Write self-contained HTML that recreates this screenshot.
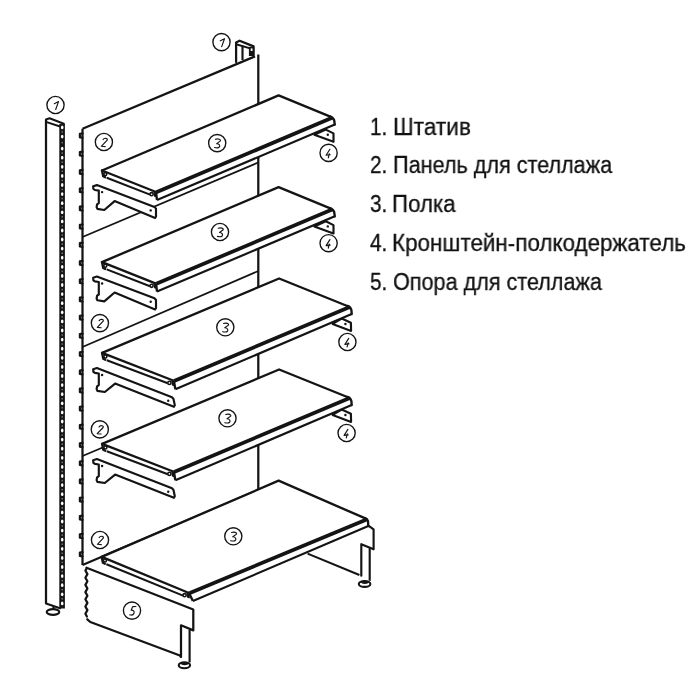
<!DOCTYPE html>
<html><head><meta charset="utf-8"><style>
html,body{margin:0;padding:0;background:#fff;width:700px;height:700px;overflow:hidden}
svg{position:absolute;left:0;top:0}
.t{position:absolute;font-family:"Liberation Sans",sans-serif;font-size:23.5px;line-height:23.5px;color:#111;white-space:nowrap;transform-origin:0 0;will-change:transform;-webkit-text-stroke:0.3px #111}
</style></head><body>
<svg width="700" height="700" viewBox="0 0 700 700">
<line x1="46" y1="119.5" x2="46" y2="603.5" stroke="#141414" stroke-width="2.25"/>
<polyline points="46,119.5 49.5,118.3 63.8,123.8" fill="none" stroke="#141414" stroke-width="2.05" stroke-linejoin="round" stroke-linecap="round"/>
<line x1="46" y1="121.8" x2="60" y2="126.5" stroke="#141414" stroke-width="1.85"/>
<rect x="59.3" y="124" width="5.6" height="484.5" fill="#141414"/>
<ellipse cx="62.2" cy="127.4" rx="1.25" ry="1.9" fill="#fff"/>
<rect x="61.6" y="131.2" width="1.2" height="1.6" fill="#888"/>
<ellipse cx="62.2" cy="136.6" rx="1.25" ry="1.9" fill="#fff"/>
<rect x="61.6" y="141.8" width="1.2" height="1.6" fill="#888"/>
<ellipse cx="62.2" cy="148.6" rx="1.25" ry="1.9" fill="#fff"/>
<rect x="61.6" y="152.3" width="1.2" height="1.6" fill="#888"/>
<ellipse cx="62.2" cy="157.7" rx="1.25" ry="1.9" fill="#fff"/>
<rect x="61.6" y="161.4" width="1.2" height="1.6" fill="#888"/>
<ellipse cx="62.2" cy="166.8" rx="1.25" ry="1.9" fill="#fff"/>
<rect x="61.6" y="170.5" width="1.2" height="1.6" fill="#888"/>
<ellipse cx="62.2" cy="175.9" rx="1.25" ry="1.9" fill="#fff"/>
<rect x="61.6" y="179.6" width="1.2" height="1.6" fill="#888"/>
<ellipse cx="62.2" cy="185" rx="1.25" ry="1.9" fill="#fff"/>
<rect x="61.6" y="188.7" width="1.2" height="1.6" fill="#888"/>
<ellipse cx="62.2" cy="194.1" rx="1.25" ry="1.9" fill="#fff"/>
<rect x="61.6" y="197.8" width="1.2" height="1.6" fill="#888"/>
<ellipse cx="62.2" cy="203.2" rx="1.25" ry="1.9" fill="#fff"/>
<rect x="61.6" y="206.9" width="1.2" height="1.6" fill="#888"/>
<ellipse cx="62.2" cy="212.3" rx="1.25" ry="1.9" fill="#fff"/>
<rect x="61.6" y="216" width="1.2" height="1.6" fill="#888"/>
<ellipse cx="62.2" cy="221.4" rx="1.25" ry="1.9" fill="#fff"/>
<rect x="61.6" y="225.1" width="1.2" height="1.6" fill="#888"/>
<ellipse cx="62.2" cy="230.5" rx="1.25" ry="1.9" fill="#fff"/>
<rect x="61.6" y="234.2" width="1.2" height="1.6" fill="#888"/>
<ellipse cx="62.2" cy="239.5" rx="1.25" ry="1.9" fill="#fff"/>
<rect x="61.6" y="243.3" width="1.2" height="1.6" fill="#888"/>
<ellipse cx="62.2" cy="248.6" rx="1.25" ry="1.9" fill="#fff"/>
<rect x="61.6" y="252.4" width="1.2" height="1.6" fill="#888"/>
<ellipse cx="62.2" cy="257.7" rx="1.25" ry="1.9" fill="#fff"/>
<rect x="61.6" y="261.5" width="1.2" height="1.6" fill="#888"/>
<ellipse cx="62.2" cy="266.8" rx="1.25" ry="1.9" fill="#fff"/>
<rect x="61.6" y="270.6" width="1.2" height="1.6" fill="#888"/>
<ellipse cx="62.2" cy="275.9" rx="1.25" ry="1.9" fill="#fff"/>
<rect x="61.6" y="279.7" width="1.2" height="1.6" fill="#888"/>
<ellipse cx="62.2" cy="285" rx="1.25" ry="1.9" fill="#fff"/>
<rect x="61.6" y="288.8" width="1.2" height="1.6" fill="#888"/>
<ellipse cx="62.2" cy="294.1" rx="1.25" ry="1.9" fill="#fff"/>
<rect x="61.6" y="297.9" width="1.2" height="1.6" fill="#888"/>
<ellipse cx="62.2" cy="303.2" rx="1.25" ry="1.9" fill="#fff"/>
<rect x="61.6" y="307" width="1.2" height="1.6" fill="#888"/>
<ellipse cx="62.2" cy="312.3" rx="1.25" ry="1.9" fill="#fff"/>
<rect x="61.6" y="316.1" width="1.2" height="1.6" fill="#888"/>
<ellipse cx="62.2" cy="321.4" rx="1.25" ry="1.9" fill="#fff"/>
<rect x="61.6" y="325.2" width="1.2" height="1.6" fill="#888"/>
<ellipse cx="62.2" cy="330.5" rx="1.25" ry="1.9" fill="#fff"/>
<rect x="61.6" y="334.2" width="1.2" height="1.6" fill="#888"/>
<ellipse cx="62.2" cy="339.6" rx="1.25" ry="1.9" fill="#fff"/>
<rect x="61.6" y="343.3" width="1.2" height="1.6" fill="#888"/>
<ellipse cx="62.2" cy="348.7" rx="1.25" ry="1.9" fill="#fff"/>
<rect x="61.6" y="352.4" width="1.2" height="1.6" fill="#888"/>
<ellipse cx="62.2" cy="357.8" rx="1.25" ry="1.9" fill="#fff"/>
<rect x="61.6" y="361.5" width="1.2" height="1.6" fill="#888"/>
<ellipse cx="62.2" cy="366.9" rx="1.25" ry="1.9" fill="#fff"/>
<rect x="61.6" y="370.6" width="1.2" height="1.6" fill="#888"/>
<ellipse cx="62.2" cy="376" rx="1.25" ry="1.9" fill="#fff"/>
<rect x="61.6" y="379.7" width="1.2" height="1.6" fill="#888"/>
<ellipse cx="62.2" cy="385.1" rx="1.25" ry="1.9" fill="#fff"/>
<rect x="61.6" y="388.8" width="1.2" height="1.6" fill="#888"/>
<ellipse cx="62.2" cy="394.2" rx="1.25" ry="1.9" fill="#fff"/>
<rect x="61.6" y="397.9" width="1.2" height="1.6" fill="#888"/>
<ellipse cx="62.2" cy="403.3" rx="1.25" ry="1.9" fill="#fff"/>
<rect x="61.6" y="407" width="1.2" height="1.6" fill="#888"/>
<ellipse cx="62.2" cy="412.4" rx="1.25" ry="1.9" fill="#fff"/>
<rect x="61.6" y="416.1" width="1.2" height="1.6" fill="#888"/>
<ellipse cx="62.2" cy="421.5" rx="1.25" ry="1.9" fill="#fff"/>
<rect x="61.6" y="425.2" width="1.2" height="1.6" fill="#888"/>
<ellipse cx="62.2" cy="430.5" rx="1.25" ry="1.9" fill="#fff"/>
<rect x="61.6" y="434.3" width="1.2" height="1.6" fill="#888"/>
<ellipse cx="62.2" cy="439.6" rx="1.25" ry="1.9" fill="#fff"/>
<rect x="61.6" y="443.4" width="1.2" height="1.6" fill="#888"/>
<ellipse cx="62.2" cy="448.7" rx="1.25" ry="1.9" fill="#fff"/>
<rect x="61.6" y="452.5" width="1.2" height="1.6" fill="#888"/>
<ellipse cx="62.2" cy="457.8" rx="1.25" ry="1.9" fill="#fff"/>
<rect x="61.6" y="461.6" width="1.2" height="1.6" fill="#888"/>
<ellipse cx="62.2" cy="466.9" rx="1.25" ry="1.9" fill="#fff"/>
<rect x="61.6" y="470.7" width="1.2" height="1.6" fill="#888"/>
<ellipse cx="62.2" cy="476" rx="1.25" ry="1.9" fill="#fff"/>
<rect x="61.6" y="479.8" width="1.2" height="1.6" fill="#888"/>
<ellipse cx="62.2" cy="485.1" rx="1.25" ry="1.9" fill="#fff"/>
<rect x="61.6" y="488.9" width="1.2" height="1.6" fill="#888"/>
<ellipse cx="62.2" cy="494.2" rx="1.25" ry="1.9" fill="#fff"/>
<rect x="61.6" y="498" width="1.2" height="1.6" fill="#888"/>
<ellipse cx="62.2" cy="503.3" rx="1.25" ry="1.9" fill="#fff"/>
<rect x="61.6" y="507.1" width="1.2" height="1.6" fill="#888"/>
<ellipse cx="62.2" cy="512.4" rx="1.25" ry="1.9" fill="#fff"/>
<rect x="61.6" y="516.1" width="1.2" height="1.6" fill="#888"/>
<ellipse cx="62.2" cy="521.5" rx="1.25" ry="1.9" fill="#fff"/>
<rect x="61.6" y="525.2" width="1.2" height="1.6" fill="#888"/>
<ellipse cx="62.2" cy="530.6" rx="1.25" ry="1.9" fill="#fff"/>
<rect x="61.6" y="534.3" width="1.2" height="1.6" fill="#888"/>
<ellipse cx="62.2" cy="539.7" rx="1.25" ry="1.9" fill="#fff"/>
<rect x="61.6" y="543.4" width="1.2" height="1.6" fill="#888"/>
<ellipse cx="62.2" cy="548.8" rx="1.25" ry="1.9" fill="#fff"/>
<rect x="61.6" y="552.5" width="1.2" height="1.6" fill="#888"/>
<ellipse cx="62.2" cy="557.9" rx="1.25" ry="1.9" fill="#fff"/>
<rect x="61.6" y="561.6" width="1.2" height="1.6" fill="#888"/>
<ellipse cx="62.2" cy="567" rx="1.25" ry="1.9" fill="#fff"/>
<rect x="61.6" y="570.7" width="1.2" height="1.6" fill="#888"/>
<ellipse cx="62.2" cy="576.1" rx="1.25" ry="1.9" fill="#fff"/>
<rect x="61.6" y="579.8" width="1.2" height="1.6" fill="#888"/>
<ellipse cx="62.2" cy="585.2" rx="1.25" ry="1.9" fill="#fff"/>
<rect x="61.6" y="588.9" width="1.2" height="1.6" fill="#888"/>
<ellipse cx="62.2" cy="594.3" rx="1.25" ry="1.9" fill="#fff"/>
<rect x="61.6" y="598" width="1.2" height="1.6" fill="#888"/>
<ellipse cx="62.2" cy="603.4" rx="1.25" ry="1.9" fill="#fff"/>
<polyline points="46,603.5 60,608.3" fill="none" stroke="#141414" stroke-width="2.05" stroke-linejoin="round" stroke-linecap="round"/>
<line x1="53.5" y1="606" x2="53.5" y2="609.5" stroke="#141414" stroke-width="2.15"/>
<ellipse cx="53" cy="612" rx="6.3" ry="2.9" fill="#fff" stroke="#141414" stroke-width="2.05"/>
<line x1="82.5" y1="128.7" x2="82.5" y2="565" stroke="#141414" stroke-width="2.25"/>
<line x1="82.5" y1="128.7" x2="255" y2="56.4" stroke="#141414" stroke-width="2.25"/>
<line x1="258.3" y1="54.6" x2="258.3" y2="490" stroke="#141414" stroke-width="2.25"/>
<line x1="82.5" y1="237" x2="258.3" y2="162.5" stroke="#141414" stroke-width="1.8"/>
<line x1="82.5" y1="347" x2="258.3" y2="271" stroke="#141414" stroke-width="1.8"/>
<line x1="82.5" y1="456" x2="258.3" y2="382" stroke="#141414" stroke-width="1.8"/>
<line x1="82.5" y1="565" x2="258.3" y2="490" stroke="#141414" stroke-width="2.15"/>
<polyline points="82.5,133.5 79.9,133.9 79.9,137.3 82.5,137.7" fill="none" stroke="#141414" stroke-width="2.25" stroke-linejoin="round" stroke-linecap="round"/>
<polyline points="82.5,151.7 79.9,152.1 79.9,155.5 82.5,155.9" fill="none" stroke="#141414" stroke-width="2.25" stroke-linejoin="round" stroke-linecap="round"/>
<polyline points="82.5,169.9 79.9,170.3 79.9,173.7 82.5,174.1" fill="none" stroke="#141414" stroke-width="2.25" stroke-linejoin="round" stroke-linecap="round"/>
<polyline points="82.5,188.1 79.9,188.5 79.9,191.9 82.5,192.3" fill="none" stroke="#141414" stroke-width="2.25" stroke-linejoin="round" stroke-linecap="round"/>
<polyline points="82.5,206.3 79.9,206.7 79.9,210.1 82.5,210.5" fill="none" stroke="#141414" stroke-width="2.25" stroke-linejoin="round" stroke-linecap="round"/>
<polyline points="82.5,224.5 79.9,224.9 79.9,228.3 82.5,228.7" fill="none" stroke="#141414" stroke-width="2.25" stroke-linejoin="round" stroke-linecap="round"/>
<polyline points="82.5,242.7 79.9,243.1 79.9,246.5 82.5,246.9" fill="none" stroke="#141414" stroke-width="2.25" stroke-linejoin="round" stroke-linecap="round"/>
<polyline points="82.5,260.9 79.9,261.3 79.9,264.7 82.5,265.1" fill="none" stroke="#141414" stroke-width="2.25" stroke-linejoin="round" stroke-linecap="round"/>
<polyline points="82.5,279.1 79.9,279.5 79.9,282.9 82.5,283.3" fill="none" stroke="#141414" stroke-width="2.25" stroke-linejoin="round" stroke-linecap="round"/>
<polyline points="82.5,297.3 79.9,297.7 79.9,301.1 82.5,301.5" fill="none" stroke="#141414" stroke-width="2.25" stroke-linejoin="round" stroke-linecap="round"/>
<polyline points="82.5,315.5 79.9,315.9 79.9,319.3 82.5,319.7" fill="none" stroke="#141414" stroke-width="2.25" stroke-linejoin="round" stroke-linecap="round"/>
<polyline points="82.5,333.7 79.9,334.1 79.9,337.5 82.5,337.9" fill="none" stroke="#141414" stroke-width="2.25" stroke-linejoin="round" stroke-linecap="round"/>
<polyline points="82.5,351.9 79.9,352.3 79.9,355.7 82.5,356.1" fill="none" stroke="#141414" stroke-width="2.25" stroke-linejoin="round" stroke-linecap="round"/>
<polyline points="82.5,370.1 79.9,370.5 79.9,373.9 82.5,374.3" fill="none" stroke="#141414" stroke-width="2.25" stroke-linejoin="round" stroke-linecap="round"/>
<polyline points="82.5,388.3 79.9,388.7 79.9,392.1 82.5,392.5" fill="none" stroke="#141414" stroke-width="2.25" stroke-linejoin="round" stroke-linecap="round"/>
<polyline points="82.5,406.5 79.9,406.9 79.9,410.3 82.5,410.7" fill="none" stroke="#141414" stroke-width="2.25" stroke-linejoin="round" stroke-linecap="round"/>
<polyline points="82.5,424.7 79.9,425.1 79.9,428.5 82.5,428.9" fill="none" stroke="#141414" stroke-width="2.25" stroke-linejoin="round" stroke-linecap="round"/>
<polyline points="82.5,442.9 79.9,443.3 79.9,446.7 82.5,447.1" fill="none" stroke="#141414" stroke-width="2.25" stroke-linejoin="round" stroke-linecap="round"/>
<polyline points="82.5,461.1 79.9,461.5 79.9,464.9 82.5,465.3" fill="none" stroke="#141414" stroke-width="2.25" stroke-linejoin="round" stroke-linecap="round"/>
<polyline points="82.5,479.3 79.9,479.7 79.9,483.1 82.5,483.5" fill="none" stroke="#141414" stroke-width="2.25" stroke-linejoin="round" stroke-linecap="round"/>
<polyline points="82.5,497.5 79.9,497.9 79.9,501.3 82.5,501.7" fill="none" stroke="#141414" stroke-width="2.25" stroke-linejoin="round" stroke-linecap="round"/>
<polyline points="82.5,515.7 79.9,516.1 79.9,519.5 82.5,519.9" fill="none" stroke="#141414" stroke-width="2.25" stroke-linejoin="round" stroke-linecap="round"/>
<polyline points="82.5,533.9 79.9,534.3 79.9,537.7 82.5,538.1" fill="none" stroke="#141414" stroke-width="2.25" stroke-linejoin="round" stroke-linecap="round"/>
<polyline points="82.5,552.1 79.9,552.5 79.9,555.9 82.5,556.3" fill="none" stroke="#141414" stroke-width="2.25" stroke-linejoin="round" stroke-linecap="round"/>
<polygon points="236.1,42.5 239.6,40.7 253.6,46.4 253.6,55 236.1,62.5" fill="#fff" stroke="none"/>
<polyline points="236.1,62.1 236.1,42.5 239.6,40.7 253.6,46.4 253.6,55" fill="none" stroke="#141414" stroke-width="2.25" stroke-linejoin="round" stroke-linecap="round"/>
<line x1="236.1" y1="44.2" x2="251" y2="48.6" stroke="#141414" stroke-width="1.95"/>
<line x1="242.5" y1="45.6" x2="242.5" y2="60" stroke="#141414" stroke-width="2.15"/>
<rect x="248.9" y="46.8" width="5.2" height="9.2" fill="#141414"/>
<rect x="250.7" y="48.4" width="1.8" height="2.6" fill="#fff"/>
<polygon points="93.1,186.3 96.9,185.1 154.5,206.9 156,208.6 156,216.5 155.1,218 114.6,201.1 104.3,210 97.4,208.9 96.6,207.1 97.1,204.3 98.8,203.1 98.8,190.6 94.9,190 93.4,188.9" fill="#fff" stroke="#141414" stroke-width="2.15" stroke-linejoin="round" stroke-linecap="round"/>
<circle cx="102.1" cy="192.1" r="1.2" fill="#141414"/>
<circle cx="150.7" cy="210.4" r="1.2" fill="#141414"/>
<polygon points="93.1,277.7 96.9,276.5 154.5,298.3 156,300 156,307.9 155.1,309.4 114.6,292.5 104.3,301.4 97.4,300.3 96.6,298.5 97.1,295.7 98.8,294.5 98.8,282 94.9,281.4 93.4,280.3" fill="#fff" stroke="#141414" stroke-width="2.15" stroke-linejoin="round" stroke-linecap="round"/>
<circle cx="102.1" cy="283.5" r="1.2" fill="#141414"/>
<circle cx="150.7" cy="301.8" r="1.2" fill="#141414"/>
<polygon points="93.1,369.2 96.9,368 172,397.3 173.5,399 174.8,405.3 173.9,406.8 115.1,383.6 104.8,392 97.4,390.9 96.6,389.1 97.1,386.3 98.8,385.1 98.8,373.5 94.9,372.9 93.4,371.8" fill="#fff" stroke="#141414" stroke-width="2.15" stroke-linejoin="round" stroke-linecap="round"/>
<circle cx="102.1" cy="375" r="1.2" fill="#141414"/>
<circle cx="168.2" cy="400.8" r="1.2" fill="#141414"/>
<polygon points="93.1,460.2 96.9,459 172,488.3 173.5,490 174.8,496.3 173.9,497.8 115.1,474.6 104.8,483 97.4,481.9 96.6,480.1 97.1,477.3 98.8,476.1 98.8,464.5 94.9,463.9 93.4,462.8" fill="#fff" stroke="#141414" stroke-width="2.15" stroke-linejoin="round" stroke-linecap="round"/>
<circle cx="102.1" cy="466" r="1.2" fill="#141414"/>
<circle cx="168.2" cy="491.8" r="1.2" fill="#141414"/>
<polygon points="314.3,134.7 325.8,129.6 333.5,133.4 333.5,141.8" fill="#fff" stroke="#141414" stroke-width="2.15" stroke-linejoin="round" stroke-linecap="round"/>
<circle cx="327.8" cy="134.7" r="1.2" fill="#141414"/>
<polygon points="314.3,226.4 325.8,221.3 333.5,225.1 333.5,233.5" fill="#fff" stroke="#141414" stroke-width="2.15" stroke-linejoin="round" stroke-linecap="round"/>
<circle cx="327.8" cy="226.4" r="1.2" fill="#141414"/>
<polygon points="332.6,323.9 341.7,318.6 350.9,322.8 351.1,330.9" fill="#fff" stroke="#141414" stroke-width="2.15" stroke-linejoin="round" stroke-linecap="round"/>
<circle cx="345.4" cy="324" r="1.2" fill="#141414"/>
<polygon points="332.6,414.9 341.7,409.6 350.9,413.8 351.1,421.9" fill="#fff" stroke="#141414" stroke-width="2.15" stroke-linejoin="round" stroke-linecap="round"/>
<circle cx="345.4" cy="415" r="1.2" fill="#141414"/>
<polygon points="102,170.5 278.6,95.4 333.3,117.4 334.2,120.4 334.8,124.6 157,200 103.2,176.3" fill="#fff" stroke="none"/>
<polyline points="102,170.5 278.6,95.4 330.3,116.6" fill="none" stroke="#141414" stroke-width="2.35" stroke-linejoin="round" stroke-linecap="round"/>
<path d="M330.3,116.6 Q333.3,117.4 334.2,120.4 L334.8,124.6" fill="none" stroke="#141414" stroke-width="2.35" stroke-linejoin="round" stroke-linecap="round"/>
<line x1="102" y1="170.5" x2="156" y2="192" stroke="#141414" stroke-width="2.25"/>
<polyline points="102,170.5 103.2,176.3 105.2,177.3" fill="none" stroke="#141414" stroke-width="2.35" stroke-linejoin="round" stroke-linecap="round"/>
<line x1="106.7" y1="177.8" x2="150" y2="194.6" stroke="#141414" stroke-width="2.05"/>
<circle cx="105.3" cy="174.1" r="1.5" fill="#fff" stroke="#141414" stroke-width="1.575"/>
<circle cx="151.6" cy="194.2" r="1.6" fill="#fff" stroke="#141414" stroke-width="1.575"/>
<polygon points="153.4,191.7 156.3,192.5 156.9,197.5 154.2,196.7" fill="#141414" stroke="none"/>
<line x1="156.3" y1="192.2" x2="332.7" y2="117.6" stroke="#141414" stroke-width="3.75"/>
<line x1="157" y1="200" x2="334.8" y2="124.6" stroke="#141414" stroke-width="2.15"/>
<line x1="156" y1="192" x2="157" y2="200" stroke="#141414" stroke-width="2.35"/>
<polygon points="102,262.1 278.6,187.1 333.3,209.1 334.2,212.1 334.8,216.3 157,291.6 103.2,267.9" fill="#fff" stroke="none"/>
<polyline points="102,262.1 278.6,187.1 330.3,208.3" fill="none" stroke="#141414" stroke-width="2.35" stroke-linejoin="round" stroke-linecap="round"/>
<path d="M330.3,208.3 Q333.3,209.1 334.2,212.1 L334.8,216.3" fill="none" stroke="#141414" stroke-width="2.35" stroke-linejoin="round" stroke-linecap="round"/>
<line x1="102" y1="262.1" x2="156" y2="283.6" stroke="#141414" stroke-width="2.25"/>
<polyline points="102,262.1 103.2,267.9 105.2,268.9" fill="none" stroke="#141414" stroke-width="2.35" stroke-linejoin="round" stroke-linecap="round"/>
<line x1="106.7" y1="269.4" x2="150" y2="286.2" stroke="#141414" stroke-width="2.05"/>
<circle cx="105.3" cy="265.7" r="1.5" fill="#fff" stroke="#141414" stroke-width="1.575"/>
<circle cx="151.6" cy="285.8" r="1.6" fill="#fff" stroke="#141414" stroke-width="1.575"/>
<polygon points="153.4,283.3 156.3,284.1 156.9,289.1 154.2,288.3" fill="#141414" stroke="none"/>
<line x1="156.3" y1="283.8" x2="332.7" y2="209.3" stroke="#141414" stroke-width="3.75"/>
<line x1="157" y1="291.6" x2="334.8" y2="216.3" stroke="#141414" stroke-width="2.15"/>
<line x1="156" y1="283.6" x2="157" y2="291.6" stroke="#141414" stroke-width="2.35"/>
<polygon points="102.1,352.9 279.1,278.5 350.3,306.6 351.4,310 351.7,314 175.4,389.3 103.3,358.7" fill="#fff" stroke="none"/>
<polyline points="102.1,352.9 279.1,278.5 347.3,306" fill="none" stroke="#141414" stroke-width="2.35" stroke-linejoin="round" stroke-linecap="round"/>
<path d="M347.3,306 Q350.3,306.6 351.4,310 L351.7,314" fill="none" stroke="#141414" stroke-width="2.35" stroke-linejoin="round" stroke-linecap="round"/>
<line x1="102.1" y1="352.9" x2="173.8" y2="380.7" stroke="#141414" stroke-width="2.25"/>
<polyline points="102.1,352.9 103.3,358.7 105.3,359.7" fill="none" stroke="#141414" stroke-width="2.35" stroke-linejoin="round" stroke-linecap="round"/>
<line x1="106.8" y1="360.2" x2="167.8" y2="383.3" stroke="#141414" stroke-width="2.05"/>
<circle cx="105.4" cy="356.5" r="1.5" fill="#fff" stroke="#141414" stroke-width="1.575"/>
<circle cx="169.4" cy="382.9" r="1.6" fill="#fff" stroke="#141414" stroke-width="1.575"/>
<polygon points="171.2,380.4 174.1,381.2 174.7,386.2 172,385.4" fill="#141414" stroke="none"/>
<line x1="174.1" y1="380.9" x2="349.7" y2="307" stroke="#141414" stroke-width="3.75"/>
<line x1="175.4" y1="389.3" x2="351.7" y2="314" stroke="#141414" stroke-width="2.15"/>
<line x1="173.8" y1="380.7" x2="175.4" y2="389.3" stroke="#141414" stroke-width="2.35"/>
<polygon points="102.1,443.9 279.1,369.5 350.3,397.6 351.4,401 351.7,405 175.4,480.3 103.3,449.7" fill="#fff" stroke="none"/>
<polyline points="102.1,443.9 279.1,369.5 347.3,397" fill="none" stroke="#141414" stroke-width="2.35" stroke-linejoin="round" stroke-linecap="round"/>
<path d="M347.3,397 Q350.3,397.6 351.4,401 L351.7,405" fill="none" stroke="#141414" stroke-width="2.35" stroke-linejoin="round" stroke-linecap="round"/>
<line x1="102.1" y1="443.9" x2="173.8" y2="471.7" stroke="#141414" stroke-width="2.25"/>
<polyline points="102.1,443.9 103.3,449.7 105.3,450.7" fill="none" stroke="#141414" stroke-width="2.35" stroke-linejoin="round" stroke-linecap="round"/>
<line x1="106.8" y1="451.2" x2="167.8" y2="474.3" stroke="#141414" stroke-width="2.05"/>
<circle cx="105.4" cy="447.5" r="1.5" fill="#fff" stroke="#141414" stroke-width="1.575"/>
<circle cx="169.4" cy="473.9" r="1.6" fill="#fff" stroke="#141414" stroke-width="1.575"/>
<polygon points="171.2,471.4 174.1,472.2 174.7,477.2 172,476.4" fill="#141414" stroke="none"/>
<line x1="174.1" y1="471.9" x2="349.7" y2="398" stroke="#141414" stroke-width="3.75"/>
<line x1="175.4" y1="480.3" x2="351.7" y2="405" stroke="#141414" stroke-width="2.15"/>
<line x1="173.8" y1="471.7" x2="175.4" y2="480.3" stroke="#141414" stroke-width="2.35"/>
<polygon points="300,540 369.1,526.2 373.6,528.8 373.6,549.3 369.7,548 369.7,580 361.3,576 300,552" fill="#fff" stroke="none"/>
<polyline points="369.1,526.2 372.9,528.8 373.6,529.3 373.6,549.3 361.3,544.2 361.3,575.7" fill="none" stroke="#141414" stroke-width="2.15" stroke-linejoin="round" stroke-linecap="round"/>
<line x1="369.7" y1="548.2" x2="369.7" y2="580.8" stroke="#141414" stroke-width="2.15"/>
<line x1="307.6" y1="553.6" x2="359.4" y2="575" stroke="#141414" stroke-width="2.05"/>
<ellipse cx="364.6" cy="584" rx="5.8" ry="2.9" fill="#fff" stroke="#141414" stroke-width="2.05"/>
<ellipse cx="364.8" cy="582.3" rx="3.6" ry="1.7" fill="#141414"/>
<polygon points="101.7,556.9 278.6,480.7 367.4,518.9 368,521.1 368.3,526 192.9,601.1 102.9,562.7" fill="#fff" stroke="none"/>
<polyline points="101.7,556.9 278.6,480.7 364.8,518.2" fill="none" stroke="#141414" stroke-width="2.35" stroke-linejoin="round" stroke-linecap="round"/>
<path d="M364.8,518.2 Q367.4,518.9 368,521.1 L368.3,526" fill="none" stroke="#141414" stroke-width="2.35" stroke-linejoin="round" stroke-linecap="round"/>
<line x1="101.7" y1="556.9" x2="189" y2="593" stroke="#141414" stroke-width="2.25"/>
<polyline points="101.7,556.9 102.9,562.7 104.9,563.7" fill="none" stroke="#141414" stroke-width="2.35" stroke-linejoin="round" stroke-linecap="round"/>
<line x1="106.4" y1="564.2" x2="183" y2="595.6" stroke="#141414" stroke-width="2.05"/>
<circle cx="105" cy="560.5" r="1.5" fill="#fff" stroke="#141414" stroke-width="1.575"/>
<circle cx="184.6" cy="595.2" r="1.6" fill="#fff" stroke="#141414" stroke-width="1.575"/>
<polygon points="186.4,592.7 189.3,593.5 189.9,598.5 187.2,597.7" fill="#141414" stroke="none"/>
<line x1="189.3" y1="593.2" x2="367.2" y2="519.2" stroke="#141414" stroke-width="3.75"/>
<line x1="192.9" y1="601.1" x2="368.3" y2="526" stroke="#141414" stroke-width="2.15"/>
<line x1="189" y1="593" x2="192.9" y2="601.1" stroke="#141414" stroke-width="2.35"/>
<polygon points="86.5,567.7 193.3,609.5 193.3,630.4 181,625.3 181,657 179.9,655.5 90.3,622 87.3,619.3 86.9,617" fill="#fff" stroke="none"/>
<polyline points="86.5,567.7 193.3,609.5 193.3,630.4 181,625.3 181,657 179.9,655.5 90.3,622 87.3,619.3" fill="none" stroke="#141414" stroke-width="2.25" stroke-linejoin="round" stroke-linecap="round"/>
<line x1="189.6" y1="629.9" x2="189.6" y2="662.4" stroke="#141414" stroke-width="2.15"/>
<ellipse cx="184.4" cy="665.3" rx="5.7" ry="2.9" fill="#fff" stroke="#141414" stroke-width="2.05"/>
<ellipse cx="184.6" cy="663.6" rx="3.6" ry="1.7" fill="#141414"/>
<polyline points="86.6,568.5 85.4,570.5 87.4,574.1 85.4,577.7 87.4,581.3 85.4,584.9 87.4,588.5 85.4,592.1 87.4,595.7 85.4,599.3 87.4,602.9 85.4,606.5 87.4,610.1 85.4,613.7 86.9,616.5" fill="none" stroke="#141414" stroke-width="2.25" stroke-linejoin="round" stroke-linecap="round"/>
<circle cx="221.5" cy="42.1" r="8.6" fill="#fff" stroke="#141414" stroke-width="1.375"/>
<path transform="translate(221.5,42.1)" d="M-1.2,-1.3 L3,-3.4 L0.2,4.5" fill="none" stroke="#141414" stroke-width="1.15" stroke-linecap="round" stroke-linejoin="round"/>
<circle cx="55.5" cy="105" r="8.6" fill="#fff" stroke="#141414" stroke-width="1.375"/>
<path transform="translate(55.5,105)" d="M-1.2,-1.3 L3,-3.4 L0.2,4.5" fill="none" stroke="#141414" stroke-width="1.15" stroke-linecap="round" stroke-linejoin="round"/>
<circle cx="103.9" cy="142" r="8.6" fill="#fff" stroke="#141414" stroke-width="1.375"/>
<path transform="translate(103.9,142)" d="M-0.8,-2.4 C0.2,-4.3 4.2,-4.1 3.3,-1.9 L-2.6,4.3 L1.3,4.6" fill="none" stroke="#141414" stroke-width="1.15" stroke-linecap="round" stroke-linejoin="round"/>
<circle cx="99.9" cy="323.1" r="8.6" fill="#fff" stroke="#141414" stroke-width="1.375"/>
<path transform="translate(99.9,323.1)" d="M-0.8,-2.4 C0.2,-4.3 4.2,-4.1 3.3,-1.9 L-2.6,4.3 L1.3,4.6" fill="none" stroke="#141414" stroke-width="1.15" stroke-linecap="round" stroke-linejoin="round"/>
<circle cx="99.8" cy="429.4" r="8.6" fill="#fff" stroke="#141414" stroke-width="1.375"/>
<path transform="translate(99.8,429.4)" d="M-0.8,-2.4 C0.2,-4.3 4.2,-4.1 3.3,-1.9 L-2.6,4.3 L1.3,4.6" fill="none" stroke="#141414" stroke-width="1.15" stroke-linecap="round" stroke-linejoin="round"/>
<circle cx="100" cy="540" r="8.6" fill="#fff" stroke="#141414" stroke-width="1.375"/>
<path transform="translate(100,540)" d="M-0.8,-2.4 C0.2,-4.3 4.2,-4.1 3.3,-1.9 L-2.6,4.3 L1.3,4.6" fill="none" stroke="#141414" stroke-width="1.15" stroke-linecap="round" stroke-linejoin="round"/>
<circle cx="217.2" cy="143.1" r="8.6" fill="#fff" stroke="#141414" stroke-width="1.375"/>
<path transform="translate(217.2,143.1)" d="M-1.7,-3.8 C0.8,-4.8 3.9,-3.6 3.2,-2.2 L-0.5,0.5 C2.6,0.6 2.9,3.0 2.2,3.8 C1.5,4.8 -1,4.8 -2.6,4.4" fill="none" stroke="#141414" stroke-width="1.15" stroke-linecap="round" stroke-linejoin="round"/>
<circle cx="220" cy="232" r="8.6" fill="#fff" stroke="#141414" stroke-width="1.375"/>
<path transform="translate(220,232)" d="M-1.7,-3.8 C0.8,-4.8 3.9,-3.6 3.2,-2.2 L-0.5,0.5 C2.6,0.6 2.9,3.0 2.2,3.8 C1.5,4.8 -1,4.8 -2.6,4.4" fill="none" stroke="#141414" stroke-width="1.15" stroke-linecap="round" stroke-linejoin="round"/>
<circle cx="225.3" cy="327.3" r="8.6" fill="#fff" stroke="#141414" stroke-width="1.375"/>
<path transform="translate(225.3,327.3)" d="M-1.7,-3.8 C0.8,-4.8 3.9,-3.6 3.2,-2.2 L-0.5,0.5 C2.6,0.6 2.9,3.0 2.2,3.8 C1.5,4.8 -1,4.8 -2.6,4.4" fill="none" stroke="#141414" stroke-width="1.15" stroke-linecap="round" stroke-linejoin="round"/>
<circle cx="227.5" cy="418.3" r="8.6" fill="#fff" stroke="#141414" stroke-width="1.375"/>
<path transform="translate(227.5,418.3)" d="M-1.7,-3.8 C0.8,-4.8 3.9,-3.6 3.2,-2.2 L-0.5,0.5 C2.6,0.6 2.9,3.0 2.2,3.8 C1.5,4.8 -1,4.8 -2.6,4.4" fill="none" stroke="#141414" stroke-width="1.15" stroke-linecap="round" stroke-linejoin="round"/>
<circle cx="233.3" cy="536.3" r="8.6" fill="#fff" stroke="#141414" stroke-width="1.375"/>
<path transform="translate(233.3,536.3)" d="M-1.7,-3.8 C0.8,-4.8 3.9,-3.6 3.2,-2.2 L-0.5,0.5 C2.6,0.6 2.9,3.0 2.2,3.8 C1.5,4.8 -1,4.8 -2.6,4.4" fill="none" stroke="#141414" stroke-width="1.15" stroke-linecap="round" stroke-linejoin="round"/>
<circle cx="328.6" cy="152.9" r="8.6" fill="#fff" stroke="#141414" stroke-width="1.375"/>
<path transform="translate(328.6,152.9)" d="M1.3,-3.6 L-2.5,2.4 L1.6,1.9 M0.7,0.8 L-0.3,4.9" fill="none" stroke="#141414" stroke-width="1.15" stroke-linecap="round" stroke-linejoin="round"/>
<circle cx="328.6" cy="243.2" r="8.6" fill="#fff" stroke="#141414" stroke-width="1.375"/>
<path transform="translate(328.6,243.2)" d="M1.3,-3.6 L-2.5,2.4 L1.6,1.9 M0.7,0.8 L-0.3,4.9" fill="none" stroke="#141414" stroke-width="1.15" stroke-linecap="round" stroke-linejoin="round"/>
<circle cx="347.4" cy="342" r="8.6" fill="#fff" stroke="#141414" stroke-width="1.375"/>
<path transform="translate(347.4,342)" d="M1.3,-3.6 L-2.5,2.4 L1.6,1.9 M0.7,0.8 L-0.3,4.9" fill="none" stroke="#141414" stroke-width="1.15" stroke-linecap="round" stroke-linejoin="round"/>
<circle cx="346.6" cy="433" r="8.6" fill="#fff" stroke="#141414" stroke-width="1.375"/>
<path transform="translate(346.6,433)" d="M1.3,-3.6 L-2.5,2.4 L1.6,1.9 M0.7,0.8 L-0.3,4.9" fill="none" stroke="#141414" stroke-width="1.15" stroke-linecap="round" stroke-linejoin="round"/>
<circle cx="132" cy="610.6" r="8.6" fill="#fff" stroke="#141414" stroke-width="1.375"/>
<path transform="translate(132,610.6)" d="M0.9,-4.0 L3.9,-4.1 M0.6,-3.8 L-0.8,-0.4 C1.5,-0.5 2.6,0.8 2.0,2.6 C1.4,4.4 -0.8,4.6 -2.3,4.2" fill="none" stroke="#141414" stroke-width="1.15" stroke-linecap="round" stroke-linejoin="round"/>
</svg>
<div class="t" style="left:370.0px;top:115.7px;transform:scaleX(0.88)">1.</div>
<div class="t" style="left:392.6px;top:115.7px;transform:scaleX(0.9628)">Штатив</div>
<div class="t" style="left:370.0px;top:154.2px;transform:scaleX(0.88)">2.</div>
<div class="t" style="left:392.8px;top:154.2px;transform:scaleX(0.9199)">Панель для стеллажа</div>
<div class="t" style="left:369.6px;top:193.4px;transform:scaleX(0.88)">3.</div>
<div class="t" style="left:392.2px;top:193.4px;transform:scaleX(0.9477)">Полка</div>
<div class="t" style="left:369.6px;top:231.9px;transform:scaleX(0.88)">4.</div>
<div class="t" style="left:392.1px;top:231.9px;transform:scaleX(0.9541)">Кронштейн-полкодержатель</div>
<div class="t" style="left:370.1px;top:270.5px;transform:scaleX(0.88)">5.</div>
<div class="t" style="left:392.8px;top:270.5px;transform:scaleX(0.9190)">Опора для стеллажа</div>
</body></html>
